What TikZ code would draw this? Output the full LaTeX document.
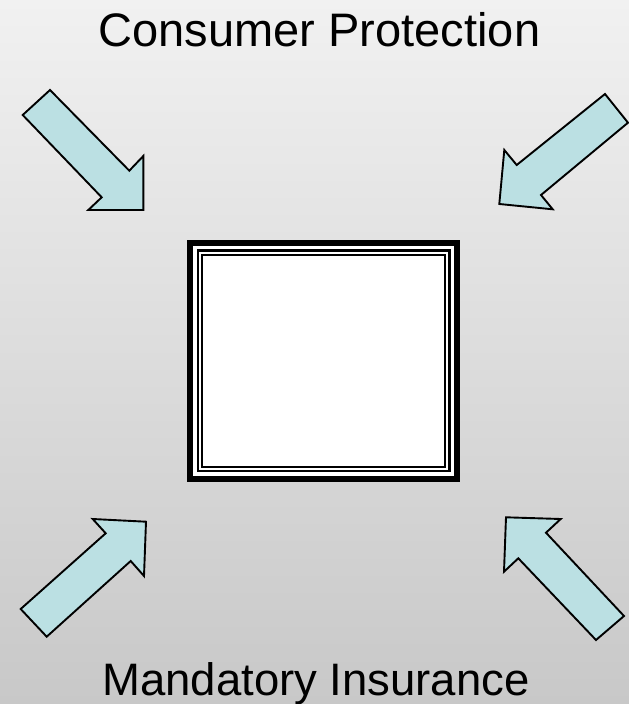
\documentclass[tikz,border=0pt]{standalone}
\usepackage{fontspec}
\setmainfont{Liberation Sans}
\definecolor{arrowfill}{HTML}{BBE0E3}
\definecolor{bgtop}{HTML}{F1F1F1}
\definecolor{bgbottom}{HTML}{C8C8C8}
\begin{document}
\begin{tikzpicture}[x=1pt,y=-1pt,
  blockarrow/.style={fill=arrowfill, draw=black, line width=1.9pt, line join=miter},
  toptitle/.style={font=\fontsize{47}{56}\selectfont, anchor=base, inner sep=0pt},
  bottomtitle/.style={font=\fontsize{45.5}{54}\selectfont, anchor=base, inner sep=0pt}]
\useasboundingbox (0,0) rectangle (629,704);
\shade[top color=bgtop, bottom color=bgbottom] (0,0) rectangle (629,704);
% titles
\node[toptitle] (top) at (319.5,46.7) {Consumer Protection};
\node[bottomtitle] (bottom) at (316,695) {Mandatory Insurance};
% central framed box
\fill[white] (187.3,240) rectangle (460,481.7);
\draw[black, line width=6pt] (190.3,243) rectangle (457,478.7);
\draw[black, line width=2.3pt] (197.8,250.5) rectangle (449.5,471.2);
\draw[black, line width=2.3pt] (202,254.7) rectangle (445.3,467);
% block arrows
\draw[blockarrow] (50,90) -- (129.3,170.7) -- (143.3,156) -- (143.3,210) -- (88.3,210) -- (101.7,197.3) -- (22.7,115) -- cycle;
\draw[blockarrow] (605,94) -- (628,122.7) -- (541,195) -- (552.7,209.3) -- (499.3,204) -- (504.3,150) -- (516.7,165) -- cycle;
\draw[blockarrow] (20.7,609) -- (105.7,533.3) -- (92.7,519) -- (146,521.7) -- (144,576) -- (130.7,561) -- (46.7,636.7) -- cycle;
\draw[blockarrow] (624,616) -- (596,640) -- (518.3,558.3) -- (504,571.7) -- (506,517.3) -- (560.7,519) -- (546,532.7) -- cycle;
\end{tikzpicture}
\end{document}
